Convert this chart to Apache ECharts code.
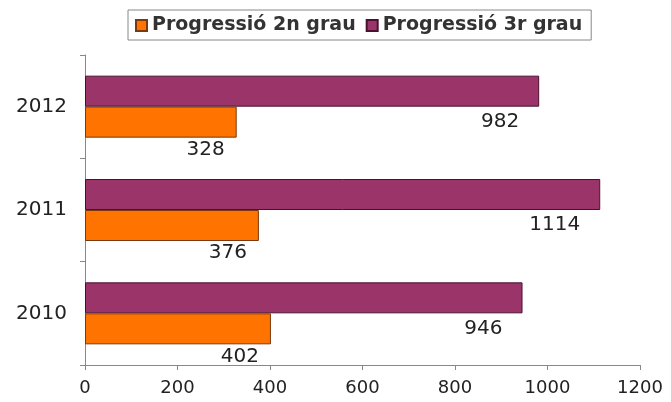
<!DOCTYPE html>
<html><head><meta charset="utf-8">
<script src="https://cdn.jsdelivr.net/npm/echarts@6/dist/echarts.min.js"></script>
<style>html,body{margin:0;padding:0;background:#fff}#c{width:671px;height:402px}</style>
</head><body><div id="c"></div>
<script>
const categories = ['2010', '2011', '2012'];
const seriesNames = ['Progressió 2n grau', 'Progressió 3r grau'];
const values2n = [402, 376, 328];
const values3r = [946, 1114, 982];
const xTicks = [0, 200, 400, 600, 800, 1000, 1200];

const font = 'DejaVu Sans';
const chart = echarts.init(document.getElementById('c'));
chart.setOption({
  animation: false,
  backgroundColor: '#fff',
  legend: {
    top: 10, left: 128,
    itemWidth: 11, itemHeight: 11, itemGap: 10,
    padding: [6, 9, 5, 7],
    borderColor: '#888', borderWidth: 1,
    textStyle: { fontFamily: font, fontSize: 19, fontWeight: 'bold', color: '#333' },
    icon: 'rect',
    data: seriesNames
  },
  grid: { left: 85, right: 31, top: 55, bottom: 37 },
  xAxis: {
    type: 'value', min: xTicks[0], max: xTicks[xTicks.length - 1], interval: 200,
    splitLine: { show: false },
    axisLine: { show: true, lineStyle: { color: '#888' } },
    axisTick: { show: true, length: 5, lineStyle: { color: '#888' } },
    axisLabel: { fontFamily: font, fontSize: 18, color: '#222', margin: 14,
      formatter: v => String(v) }
  },
  yAxis: {
    type: 'category', data: categories,
    axisLine: { lineStyle: { color: '#888' } },
    axisTick: { show: true, length: 5, lineStyle: { color: '#888' } },
    axisLabel: { fontFamily: font, fontSize: 20, color: '#222', margin: 18 }
  },
  series: [
    {
      name: seriesNames[1], type: 'bar', data: values3r,
      barGap: '0%', barCategoryGap: '40%',
      itemStyle: { color: '#9B3468', borderColor: '#4a1030', borderWidth: 1 },
      label: { show: true, position: ['100%', '100%'], align: 'right', verticalAlign: 'top',
        offset: [-20, 5], fontFamily: font, fontSize: 20, color: '#222' }
    },
    {
      name: seriesNames[0], type: 'bar', data: values2n,
      barGap: '0%', barCategoryGap: '40%',
      itemStyle: { color: '#FF7300', borderColor: '#7a3a10', borderWidth: 1 },
      label: { show: true, position: ['100%', '100%'], align: 'right', verticalAlign: 'top',
        offset: [-12, 2], fontFamily: font, fontSize: 20, color: '#222' }
    }
  ]
});
</script></body></html>
